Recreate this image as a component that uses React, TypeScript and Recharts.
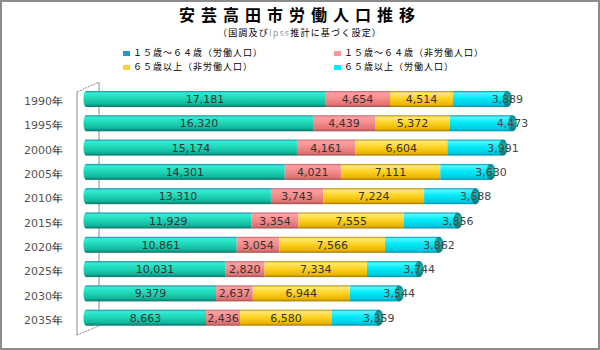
import React from "react";
import { BarChart, Bar, XAxis, YAxis, LabelList, Customized } from "recharts";
import * as R from "recharts";

const years = ["1990年", "1995年", "2000年", "2005年", "2010年", "2015年", "2020年", "2025年", "2030年", "2035年"];
const workingLabor = [17181, 16320, 15174, 14301, 13310, 11929, 10861, 10031, 9379, 8663];
const workingNonLabor = [4654, 4439, 4161, 4021, 3743, 3354, 3054, 2820, 2637, 2436];
const elderlyNonLabor = [4514, 5372, 6604, 7111, 7224, 7555, 7566, 7334, 6944, 6580];
const elderlyLabor = [3889, 4473, 3991, 3630, 3688, 3856, 3862, 3744, 3544, 3359];

const seriesNames = [
  "１５歳～６４歳（労働人口）",
  "１５歳～６４歳（非労働人口）",
  "６５歳以上（非労働人口）",
  "６５歳以上（労働人口）",
];

const data = years.map((y, i) => ({
  year: y,
  a: workingLabor[i],
  b: workingNonLabor[i],
  c: elderlyNonLabor[i],
  d: elderlyLabor[i],
}));

const W = 600;
const H = 350;
const MARGIN = { top: 87, right: 68, bottom: 20, left: 0 };
const YAXIS_W = 85;

const fmt = (v: any) => Number(v).toLocaleString("en-US");

const gradients = [
  { id: "gA", stops: [["0%", "#1a84a8"], ["12%", "#34ecd4"], ["45%", "#20d8b8"], ["80%", "#12b89e"], ["100%", "#0a7668"]] },
  { id: "gB", stops: [["0%", "#c06070"], ["12%", "#ffa0a0"], ["50%", "#f48a8a"], ["85%", "#e07272"], ["100%", "#a05050"]] },
  { id: "gC", stops: [["0%", "#b08a00"], ["12%", "#ffe878"], ["45%", "#ffd426"], ["85%", "#eab400"], ["100%", "#a07800"]] },
  { id: "gD", stops: [["0%", "#0090b0"], ["12%", "#50f8ff"], ["45%", "#00eaf8"], ["85%", "#00cae2"], ["100%", "#0090a8"]] },
  { id: "gCap", stops: [["0%", "#0a8090"], ["40%", "#18b8b0"], ["100%", "#087070"]] },
];

const makeShape = (grad: string, kind: "left" | "right" | "mid") => (props: any) => {
  const { x, y, width, height } = props;
  if (width == null || height == null) return null;
  const cy = y + height / 2;
  return (
    <g>
      {kind === "left" && <ellipse cx={x + 1} cy={cy} rx={2.5} ry={height / 2} fill={`url(#${grad})`} />}
      <rect x={kind === "left" ? x + 1 : x} y={y} width={kind === "left" ? width - 1 : width} height={height} fill={`url(#${grad})`} />
      {kind === "right" && (
        <ellipse cx={x + width} cy={cy} rx={4.5} ry={height / 2} fill="url(#gCap)" />
      )}
    </g>
  );
};

const InsideLabel = (props: any) => {
  const { x, y, width, height, value } = props;
  return (
    <text x={x + width / 2} y={y + height / 2 + 4} textAnchor="middle" fontSize={11} fontFamily="DejaVu Sans" fill="#333">
      {fmt(value)}
    </text>
  );
};

const EndLabel = (props: any) => {
  const { x, y, width, height, value } = props;
  return (
    <text x={x + width} y={y + height / 2 + 4} textAnchor="middle" fontSize={11} fontFamily="DejaVu Sans" fill="#444">
      {fmt(value)}
    </text>
  );
};

const YTick = (props: any) => {
  const { y, payload } = props;
  const s: string = payload.value;
  return (
    <text x={63} y={y + 6} textAnchor="end" fontSize={11} fontFamily="DejaVu Sans">
      <tspan fill="#555">{s.slice(0, 4)}</tspan>
      <tspan fill="#111">{s.slice(4)}</tspan>
    </text>
  );
};

const Wall = () => {
  const hook: any = (R as any).usePlotArea || (R as any).useOffset;
  let area: any = null;
  try {
    area = hook ? hook() : null;
  } catch (e) {
    area = null;
  }
  const left = area && area.x != null ? area.x : area && area.left != null ? area.left : YAXIS_W + MARGIN.left;
  const top = area && area.y != null ? area.y : area && area.top != null ? area.top : MARGIN.top;
  const h = area && area.height != null ? area.height : H - MARGIN.top - MARGIN.bottom;
  const bottom = top + h;
  const fx = left - 8;
  const bx = left + 14;
  return (
    <g stroke="#8a8a8a" strokeWidth={1} fill="none">
      <line x1={fx} y1={top + 5} x2={fx} y2={bottom + 5} />
      <line x1={fx} y1={top + 5} x2={bx} y2={top - 5} strokeDasharray="2 1" />
      <line x1={bx} y1={top - 5} x2={bx} y2={bottom - 4} />
      <line x1={fx} y1={bottom + 5} x2={bx} y2={bottom - 4} strokeDasharray="2 1" />
    </g>
  );
};

const legendColors = ["#1a9ad0", "#f49898", "#ffd030", "#00eef8"];

export default function App() {
  return (
    <div style={{ position: "absolute", left: 0, top: 0, width: W, height: H, background: "#fff", fontFamily: "'Noto Sans CJK JP', sans-serif" }}>
      <div style={{ position: "absolute", left: 0, top: 0, width: W - 4, height: H - 4, border: "2px solid #8c8c8c" }} />
      <div style={{ position: "absolute", left: 0, top: 4, width: W, textAlign: "center", fontSize: 16, fontWeight: 700, letterSpacing: 6, color: "#000", lineHeight: "20px" }}>
        安芸高田市労働人口推移
      </div>
      <div style={{ position: "absolute", left: 0, top: 27, width: W, textAlign: "center", fontSize: 9, letterSpacing: 1.2, color: "#000", lineHeight: "12px" }}>
        （国調及び<span style={{ color: "#999" }}>ipss</span>推計に基づく設定）
      </div>
      {seriesNames.map((n, i) => {
        const col = i === 0 || i === 2 ? 0 : 1;
        const row = i < 2 ? 0 : 1;
        const lx = col === 0 ? 123 : 334;
        const ly = row === 0 ? 47 : 61;
        return (
          <div key={i} style={{ position: "absolute", left: lx, top: ly, height: 12, display: "flex", alignItems: "center", fontSize: 9, letterSpacing: 1, color: "#000", whiteSpace: "nowrap", lineHeight: "12px" }}>
            <span style={{ display: "inline-block", width: 7, height: 5, background: legendColors[i], marginRight: 3 }} />
            {n}
          </div>
        );
      })}
      <div style={{ position: "absolute", left: 0, top: 0 }}>
        <BarChart width={W} height={H} data={data} layout="vertical" margin={MARGIN} barSize={16} barCategoryGap={0}>
          <defs>
            {gradients.map((g) => (
              <linearGradient key={g.id} id={g.id} x1="0" y1="0" x2="0" y2="1">
                {g.stops.map(([o, c]) => (
                  <stop key={o} offset={o} stopColor={c} />
                ))}
              </linearGradient>
            ))}
          </defs>
          <Customized component={<Wall />} />
          <XAxis type="number" domain={[0, 32000]} hide />
          <YAxis type="category" dataKey="year" width={YAXIS_W} axisLine={false} tickLine={false} tick={<YTick />} interval={0} />
          <Bar dataKey="a" name={seriesNames[0]} stackId="s" isAnimationActive={false} shape={makeShape("gA", "left")}>
            <LabelList dataKey="a" content={<InsideLabel />} />
          </Bar>
          <Bar dataKey="b" name={seriesNames[1]} stackId="s" isAnimationActive={false} shape={makeShape("gB", "mid")}>
            <LabelList dataKey="b" content={<InsideLabel />} />
          </Bar>
          <Bar dataKey="c" name={seriesNames[2]} stackId="s" isAnimationActive={false} shape={makeShape("gC", "mid")}>
            <LabelList dataKey="c" content={<InsideLabel />} />
          </Bar>
          <Bar dataKey="d" name={seriesNames[3]} stackId="s" isAnimationActive={false} shape={makeShape("gD", "right")}>
            <LabelList dataKey="d" content={<EndLabel />} />
          </Bar>
        </BarChart>
      </div>
    </div>
  );
}
